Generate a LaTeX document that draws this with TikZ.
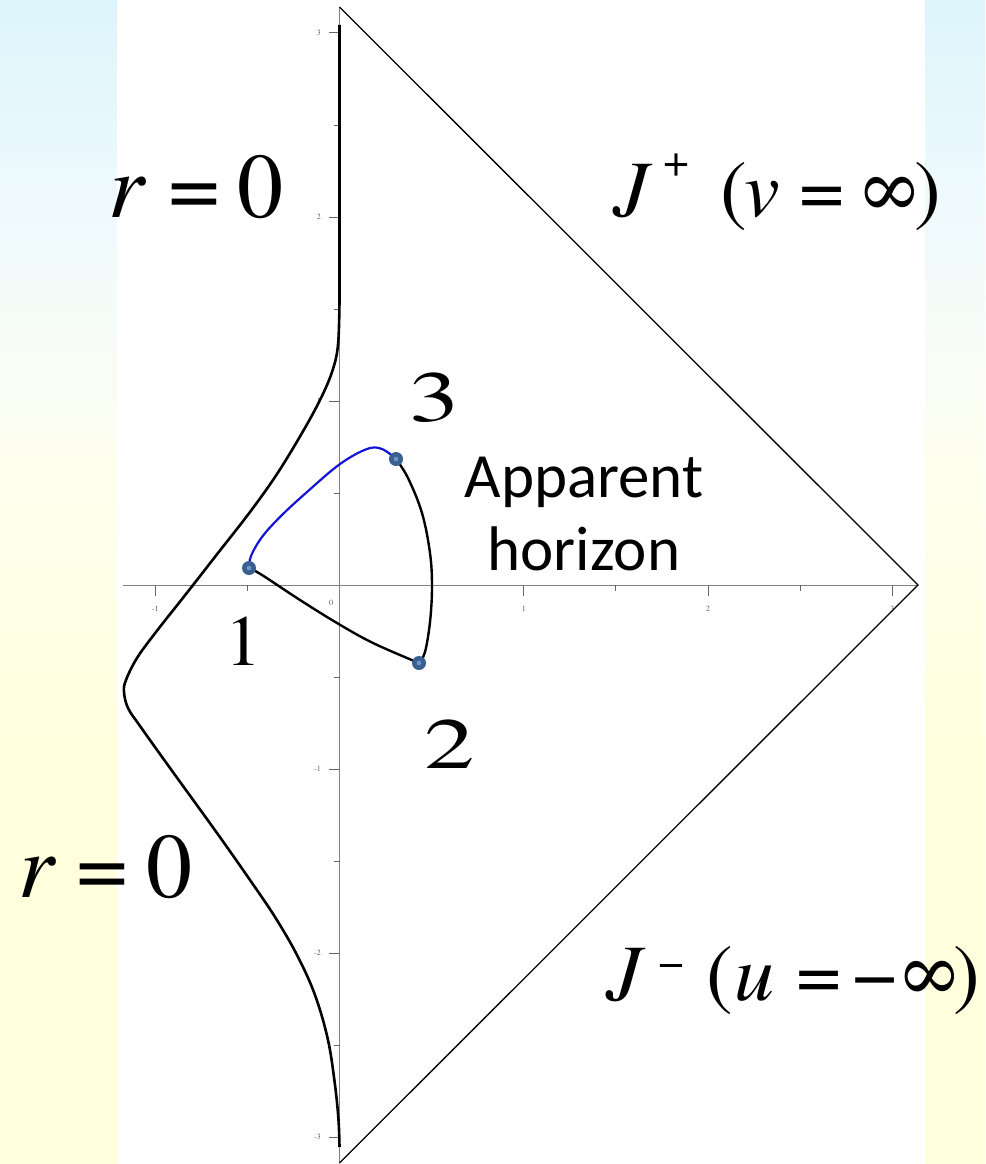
\documentclass[tikz,border=0pt]{standalone}
\usepackage{fontspec}
\newfontfamily\timesf{texgyretermes}[Extension=.otf, UprightFont=*-regular, ItalicFont=*-italic, BoldFont=*-bold]
\newfontfamily\calib{Carlito}
\definecolor{axisgray}{RGB}{128,128,128}
\definecolor{ticktext}{RGB}{90,90,90}
\definecolor{curveblue}{RGB}{20,20,215}
\definecolor{dotblue}{RGB}{58,96,146}
\definecolor{dotcenter}{RGB}{110,150,200}
\definecolor{bgcyan}{RGB}{221,245,252}
\definecolor{bgcyanlight}{RGB}{240,250,253}
\definecolor{bgpale}{RGB}{255,255,238}
\definecolor{bgyellow}{RGB}{255,255,221}
\tikzset{
  axisline/.style={draw=axisgray, line width=1pt},
  tickline/.style={draw=axisgray!80!black, line width=1pt},
  ticklab/.style={font=\timesf\fontsize{8}{8}\selectfont, text=ticktext, inner sep=0pt},
  frameline/.style={draw=black, line width=1.3pt},
  rcurve/.style={draw=black, line width=2.6pt, line join=round},
  loopline/.style={draw=black, line width=2.4pt, line cap=round},
  bluecurve/.style={draw=curveblue, line width=2.2pt, line cap=round},
  dotnode/.style={circle, fill=dotblue, minimum size=14pt, inner sep=0pt,
    path picture={\fill[dotcenter] (path picture bounding box.center) circle (2.3pt);}},
  bigmath/.style={font=\timesf\fontsize{92}{92}\selectfont, inner sep=0pt, anchor=base west},
  jlab/.style={font=\timesf\fontsize{80}{80}\selectfont, inner sep=0pt, anchor=base west},
  numlab/.style={font=\timesf\fontsize{72}{72}\selectfont, inner sep=0pt, anchor=base},
}
\newcommand{\gl}[2]{\makebox[#1pt][l]{#2}}
\begin{document}
\begin{tikzpicture}[x=1pt, y=-1pt]
\useasboundingbox (0,0) rectangle (985,1164);
% background strips
\foreach \xa/\xb in {0/117, 925/985}{
  \shade[top color=bgcyan, bottom color=bgcyanlight] (\xa,0) rectangle (\xb,220);
  \shade[top color=bgcyanlight, bottom color=bgpale] (\xa,220) rectangle (\xb,480);
  \shade[top color=bgpale, bottom color=bgyellow] (\xa,480) rectangle (\xb,760);
  \fill[bgyellow] (\xa,760) rectangle (\xb,1164);
}
\fill[white] (117,0) rectangle (925,1164);
% axes
\draw[axisline] (123,585) -- (918,585);
\draw[axisline] (339.5,7) -- (339.5,1163);
% x ticks
\foreach \k in {-1,1,2,3}{
  \draw[tickline] (339.5+184.3*\k,585) -- ++(0,11);
  \node[ticklab] at (339.5+184.3*\k,609) {\k};
}
\foreach \k in {-0.5,0.5,1.5,2.5}
  \draw[tickline] (339.5+184.3*\k,585) -- ++(0,6);
\node[ticklab] at (331,603) {0};
% y ticks
\foreach \k in {-3,-2,-1,1,2,3}{
  \draw[tickline] (339.5,585-184*\k) -- ++(-11,0);
  \node[ticklab, anchor=east] at (321,585-184*\k) {\k};
}
\foreach \k in {-2.5,-1.5,-0.5,0.5,1.5,2.5}
  \draw[tickline] (339.5,585-184*\k) -- ++(-6,0);
% Penrose diamond
\coordinate (top) at (339.5,7);
\coordinate (right) at (918,585);
\coordinate (bottom) at (339.5,1163);
\draw[frameline] (top) -- (right) -- (bottom);
% r = 0 curve
\coordinate (rtop) at (339.5,25);
\coordinate (rbot) at (339.5,1147);
\draw[rcurve] (rtop) -- plot[smooth, tension=0.6] coordinates {
 (339.5,300) (338,345) (332,372) (320,400) (302,433) (277,474) (250,512)
 (218,553) (186,594) (156,632) (137,658) (126,680) (124,692) (128,708)
 (140,726) (170,768) (217,833) (250,880) (275,917) (297,955) (315,995)
 (328,1040) (335,1085) (338.5,1120) (339.5,1147)};
% loop points
\coordinate (c1) at (249,568);
\coordinate (c2) at (419,663);
\coordinate (c3) at (396,459);
\draw[bluecurve] plot[smooth, tension=0.6] coordinates {
 (c1) (251,556) (262,537) (281,516) (307,492) (340,464) (367,449) (382,449) (c3)};
\draw[loopline] plot[smooth, tension=0.6] coordinates {
 (c3) (408,478) (422,513) (430,553) (432,587) (430,622) (425,652) (c2)};
\draw[loopline] plot[smooth, tension=0.6] coordinates {
 (c1) (262,575) (300,600) (337,623) (373,643) (c2)};
\node[dotnode] (p1) at (c1) {};
\node[dotnode] (p2) at (c2) {};
\node[dotnode] (p3) at (c3) {};
% labels
\node[bigmath] (rzt) at (108,217) {\gl{60}{\textit{r}}\gl{69}{=}0};
\node[bigmath] (rzb) at (18,897) {\gl{58}{\textit{r}}\gl{70}{=}0};
\node[jlab] (jp) at (613,216) {\gl{50}{\textit{J}}\gl{57}{\raisebox{0.5em}{\fontsize{46}{46}\selectfont +}}\gl{24}{(}\gl{55}{\textit{v}}\gl{57}{=}\gl{58}{∞})};
\node[jlab] (jm) at (606,1000) {\gl{52}{\textit{J}}\gl{48}{\raisebox{0.28em}{\fontsize{46}{46}\selectfont −}}\gl{28}{(}\gl{62}{\textit{u}}\gl{56}{=}\gl{44}{−}\gl{57}{∞})};
\node[numlab] (n3) at (435,421) {\scalebox{1.4}[1]{3}};
\node[numlab] (n2) at (450,768) {\scalebox{1.4}[1]{2}};
\node[numlab] (n1) at (243,665) {1};
\node[font=\calib\fontsize{63}{73}\selectfont, align=center, inner sep=0pt] (ah) at (584,514) {Apparent\\horizon};
\end{tikzpicture}
\end{document}
